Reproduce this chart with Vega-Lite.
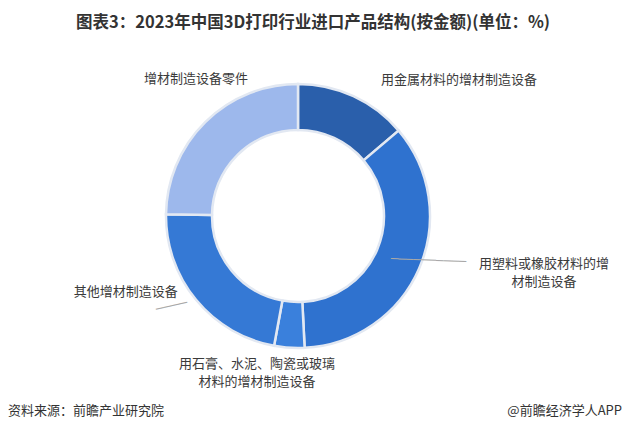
{
  "$schema": "https://vega.github.io/schema/vega-lite/v6.json",
  "width": 596,
  "height": 366,
  "padding": {"left": 0, "right": 29, "top": 14, "bottom": 0},
  "background": "white",
  "title": {
    "text": "图表3：2023年中国3D打印行业进口产品结构(按金额)(单位：%)",
    "font": "Noto Sans CJK SC",
    "fontSize": 16.5,
    "fontWeight": "bold",
    "color": "#333333",
    "anchor": "middle",
    "dx": 15,
    "offset": 2
  },
  "config": {"view": {"stroke": null}},
  "data": {
    "values": [
      {"idx": 1, "category": "用金属材料的增材制造设备", "label": "用金属材料的增材制造设备", "share": 13.8},
      {"idx": 2, "category": "用塑料或橡胶材料的增材制造设备", "label": "用塑料或橡胶材料的增\n材制造设备", "share": 35.4},
      {"idx": 3, "category": "用石膏、水泥、陶瓷或玻璃材料的增材制造设备", "label": "用石膏、水泥、陶瓷或玻璃\n材料的增材制造设备", "share": 3.7},
      {"idx": 4, "category": "其他增材制造设备", "label": "其他增材制造设备", "share": 22.3},
      {"idx": 5, "category": "增材制造设备零件", "label": "增材制造设备零件", "share": 24.8}
    ]
  },
  "transform": [
    {"stack": "share", "groupby": [], "sort": [{"field": "idx", "order": "ascending"}], "as": ["s0", "s1"]}
  ],
  "layer": [
    {
      "mark": {"type": "arc", "innerRadius": 86, "outerRadius": 132, "stroke": "#e2e8f2", "strokeWidth": 2.5},
      "encoding": {
        "theta": {"field": "s0", "type": "quantitative", "scale": {"domain": [0, 100]}},
        "theta2": {"field": "s1"},
        "color": {
          "field": "category",
          "type": "nominal",
          "legend": null,
          "scale": {
            "domain": ["用金属材料的增材制造设备", "用塑料或橡胶材料的增材制造设备", "用石膏、水泥、陶瓷或玻璃材料的增材制造设备", "其他增材制造设备", "增材制造设备零件"],
            "range": ["#2a5fab", "#2f72cf", "#3a80dc", "#3579d5", "#9db8ec"]
          }
        }
      }
    },
    {
      "transform": [{"filter": "datum.idx === 2"}],
      "mark": {"type": "text", "radius": 200, "dx": -15, "dy": 174.5, "angle": 2.3, "align": "center", "baseline": "middle", "font": "DejaVu Sans Mono", "fontSize": 12.5, "color": "#a8a8a8", "text": "──────────"},
      "encoding": {
        "theta": {"field": "s0", "type": "quantitative"}
      }
    },
    {
      "transform": [{"filter": "datum.idx === 4"}],
      "mark": {"type": "text", "radius": 200, "dx": -64.5, "dy": -123.5, "angle": -12.7, "align": "center", "baseline": "middle", "font": "DejaVu Sans Mono", "fontSize": 13.3, "color": "#a8a8a8", "text": "────"},
      "encoding": {
        "theta": {"field": "s0", "type": "quantitative"}
      }
    },
    {
      "transform": [{"filter": "datum.idx === 1"}],
      "mark": {"type": "text", "radius": 200, "dx": 161, "dy": 63.5, "font": "Noto Sans CJK SC", "fontSize": 13, "color": "#3a3a3a", "lineBreak": "\n", "lineHeight": 18, "baseline": "middle"},
      "encoding": {
        "theta": {"field": "s0", "type": "quantitative"},
        "text": {"field": "label"}
      }
    },
    {
      "transform": [{"filter": "datum.idx === 2"}],
      "mark": {"type": "text", "radius": 200, "dx": 93.5, "dy": 177, "font": "Noto Sans CJK SC", "fontSize": 13, "color": "#3a3a3a", "lineBreak": "\n", "lineHeight": 18, "baseline": "middle"},
      "encoding": {
        "theta": {"field": "s0", "type": "quantitative"},
        "text": {"field": "label"}
      }
    },
    {
      "transform": [{"filter": "datum.idx === 3"}],
      "mark": {"type": "text", "radius": 200, "dx": -51, "dy": -52, "font": "Noto Sans CJK SC", "fontSize": 13, "color": "#3a3a3a", "lineBreak": "\n", "lineHeight": 18, "baseline": "middle"},
      "encoding": {
        "theta": {"field": "s0", "type": "quantitative"},
        "text": {"field": "label"}
      }
    },
    {
      "transform": [{"filter": "datum.idx === 4"}],
      "mark": {"type": "text", "radius": 200, "dx": -136, "dy": -121, "font": "Noto Sans CJK SC", "fontSize": 13, "color": "#3a3a3a", "lineBreak": "\n", "lineHeight": 18, "baseline": "middle"},
      "encoding": {
        "theta": {"field": "s0", "type": "quantitative"},
        "text": {"field": "label"}
      }
    },
    {
      "transform": [{"filter": "datum.idx === 5"}],
      "mark": {"type": "text", "radius": 200, "dx": 98, "dy": -134, "font": "Noto Sans CJK SC", "fontSize": 13, "color": "#3a3a3a", "lineBreak": "\n", "lineHeight": 18, "baseline": "middle"},
      "encoding": {
        "theta": {"field": "s0", "type": "quantitative"},
        "text": {"field": "label"}
      }
    },
    {
      "data": {"values": [{"side": "left", "note": "资料来源：前瞻产业研究院"}, {"side": "right", "note": "@前瞻经济学人APP"}]},
      "transform": [{"filter": "datum.side === 'left'"}],
      "mark": {"type": "text", "align": "left", "baseline": "middle", "dx": 8, "dy": 195, "font": "Noto Sans CJK SC", "fontSize": 13, "color": "#333333"},
      "encoding": {
        "x": {"field": "side", "type": "nominal", "scale": {"type": "point", "padding": 0, "domain": ["left", "right"]}, "axis": null},
        "text": {"field": "note"}
      }
    },
    {
      "data": {"values": [{"side": "left", "note": "资料来源：前瞻产业研究院"}, {"side": "right", "note": "@前瞻经济学人APP"}]},
      "transform": [{"filter": "datum.side === 'right'"}],
      "mark": {"type": "text", "align": "right", "baseline": "middle", "dx": 26, "dy": 195, "font": "Noto Sans CJK SC", "fontSize": 13, "color": "#333333"},
      "encoding": {
        "x": {"field": "side", "type": "nominal", "scale": {"type": "point", "padding": 0, "domain": ["left", "right"]}, "axis": null},
        "text": {"field": "note"}
      }
    }
  ]
}
